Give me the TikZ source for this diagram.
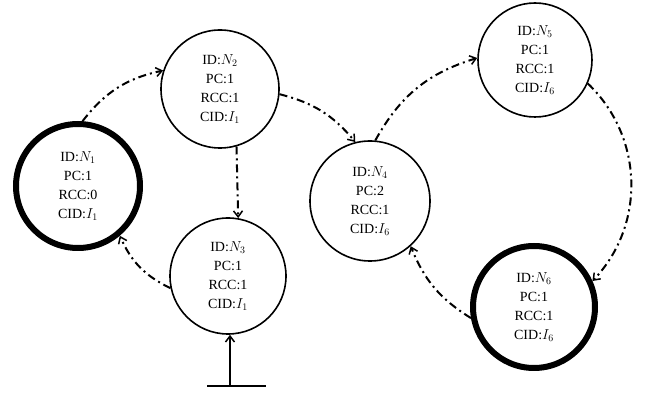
\documentclass[tikz,border=0pt]{standalone}
\usepackage{amsmath,amssymb}
\usepackage{fontspec}
\setmainfont{Liberation Serif}
\usepackage{tikz}
\usetikzlibrary{arrows.meta}
\usetikzlibrary{shapes}

\tikzset{
  state/.style={circle,draw,line width=1.6pt,inner sep=0pt,align=center,
    font=\fontsize{14}{19}\selectfont},
  mainstate/.style={state,line width=6pt},
  flow/.style={line width=2pt,dash pattern=on 8pt off 4pt on 2pt off 4pt,
    -{Straight Barb[length=6pt,width=9pt,line width=1.5pt]}},
  feed/.style={line width=2pt,-{Straight Barb[length=6pt,width=9pt,line width=1.5pt]}}
}

\begin{document}
\begin{tikzpicture}[x=1pt,y=1pt]
    \useasboundingbox (0,0) rectangle (649,394);
    \node[mainstate,minimum size=124pt] (n1) at (78,208) {ID:$N_1$\\PC:1\\RCC:0\\CID:$I_1$};
    \node[state,minimum size=118pt] (n2) at (220,305) {ID:$N_2$\\PC:1\\RCC:1\\CID:$I_1$};
    \node[state,minimum size=116pt] (n3) at (228,118) {ID:$N_3$\\PC:1\\RCC:1\\CID:$I_1$};
    \node[state,minimum size=120pt] (n4) at (370,193) {ID:$N_4$\\PC:2\\RCC:1\\CID:$I_6$};
    \node[state,minimum size=114pt] (n5) at (535,334) {ID:$N_5$\\PC:1\\RCC:1\\CID:$I_6$};
    \node[mainstate,minimum size=122pt] (n6) at (534,87) {ID:$N_6$\\PC:1\\RCC:1\\CID:$I_6$};
    % dash-dot transitions
    \draw[flow] (n1.86) to[bend left=20] (n2.162);
    \draw[flow] (n2.-5) to[bend left=18] (n4.104);
    \draw[flow] (n2.-74) -- (n3.80);
    \draw[flow] (n3.192) to[bend left=20] (n1.-50);
    \draw[flow] (n4.85) to[bend left=22] (n5.178);
    \draw[flow] (n5.-24) to[bend left=45] (n6.24);
    \draw[flow] (n6.190) to[bend left=18] (n4.-48);
    % input
    \coordinate (inl) at (207,8);
    \coordinate (inr) at (266,8);
    \coordinate (inp) at (230,8);
    \draw[line width=2pt] (inl) -- (inr);
    \draw[feed] (inp) -- (inp |- n3.south);
\end{tikzpicture}
\end{document}
